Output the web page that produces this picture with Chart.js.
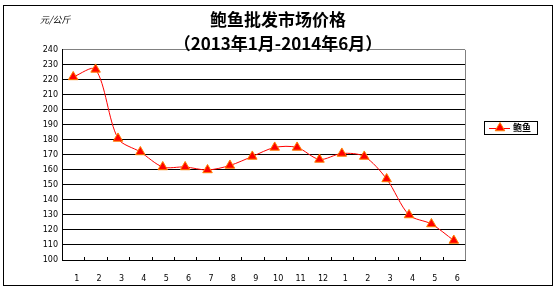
<!DOCTYPE html>
<html>
<head>
<meta charset="utf-8">
<script src="https://cdn.jsdelivr.net/npm/chart.js@4/dist/chart.umd.min.js"></script>
<style>
  html, body { margin: 0; padding: 0; background: #fff; }
  #wrap { width: 556px; height: 291px; position: relative; }
</style>
</head>
<body>
<div id="wrap"><canvas id="abalone"></canvas></div>
<script>
// data
var months = ["1", "2", "3", "4", "5", "6", "7", "8", "9", "10", "11", "12", "1", "2", "3", "4", "5", "6"];
var prices = [222, 227, 181, 172, 162, 162, 160, 163, 169, 175, 175, 167, 171, 169, 154, 130, 124, 113];
var seriesName = "鲍鱼";
var unitLabel = "元/公斤";
var titleText = "鲍鱼批发市场价格";
var subtitleText = "（2013年1月-2014年6月）";
var yMin = 100, yMax = 240, yStep = 10;

// frame, inner ticks, unit label and legend box
var extras = {
    id: 'extras',
    beforeDraw: function (chart) {
        var c = chart.ctx;
        c.save();
        c.fillStyle = '#fff';
        c.fillRect(0, 0, chart.width, chart.height);
        c.restore();
    },
    afterDraw: function (chart) {
        var c = chart.ctx, a = chart.chartArea, x = chart.scales.x;
        c.save();
        // outer frame
        c.strokeStyle = '#000';
        c.lineWidth = 1;
        c.strokeRect(3.5, 5.5, 549, 280);
        // plot right edge (gray)
        c.strokeStyle = '#808080';
        c.beginPath();
        c.moveTo(Math.round(a.right) + 0.5, a.top);
        c.lineTo(Math.round(a.right) + 0.5, a.bottom);
        c.stroke();
        // inner tick marks between categories
        c.strokeStyle = '#000';
        c.beginPath();
        for (var i = 0; i < months.length - 1; i++) {
            var px = Math.round((x.getPixelForValue(i) + x.getPixelForValue(i + 1)) / 2) + 0.5;
            c.moveTo(px, a.bottom);
            c.lineTo(px, a.bottom - 3);
        }
        c.stroke();
        // unit label
        c.fillStyle = '#000';
        c.font = 'italic 9px "Noto Sans CJK SC"';
        c.textBaseline = 'middle';
        c.textAlign = 'left';
        c.fillText(unitLabel, 40, 20);
        // legend
        var ds = chart.data.datasets[0];
        c.strokeStyle = '#000';
        c.strokeRect(484.5, 121.5, 53, 13);
        c.strokeStyle = ds.borderColor;
        c.beginPath();
        c.moveTo(489, 128.5);
        c.lineTo(510, 128.5);
        c.stroke();
        c.fillStyle = ds.pointBackgroundColor;
        c.strokeStyle = ds.pointBorderColor;
        c.lineWidth = ds.pointBorderWidth;
        Chart.helpers.drawPoint(c, { pointStyle: ds.pointStyle, radius: ds.pointRadius, borderWidth: 1, rotation: 0 }, 500, 128);
        c.fillStyle = '#000';
        c.font = 'bold 9px "Noto Sans CJK SC"';
        c.fillText(ds.label, 513, 128);
        c.restore();
    }
};

var ctx = document.getElementById('abalone').getContext('2d');

var priceChart = new Chart(ctx, {
    type: 'line',
    data: {
        labels: months,
        datasets: [{
            label: seriesName,
            data: prices,
            borderColor: '#FF0000',
            borderWidth: 1,
            tension: 0.3,
            pointStyle: 'triangle',
            pointRadius: 5.5,
            pointBackgroundColor: '#FF0000',
            pointBorderColor: '#FF8000',
            pointBorderWidth: 1
        }]
    },
    options: {
        responsive: true,
        maintainAspectRatio: false,
        animation: false,
        layout: { padding: 0 },
        plugins: {
            legend: { display: false },
            tooltip: { enabled: false },
            title: {
                display: true,
                text: titleText,
                color: '#000',
                font: { family: '"Noto Sans CJK SC"', size: 17, weight: 'bold', lineHeight: 1 },
                padding: { top: 11, bottom: 10 }
            },
            subtitle: {
                display: true,
                text: subtitleText,
                color: '#000',
                font: { family: '"Noto Sans CJK SC"', size: 17, weight: 'bold', lineHeight: 0.7 },
                padding: { top: 0, bottom: 0 }
            }
        },
        scales: {
            x: {
                offset: true,
                afterFit: function (s) { s.height = 31; },
                grid: { display: false, drawTicks: false },
                border: { color: '#000', width: 1 },
                ticks: {
                    color: '#000',
                    font: { family: '"DejaVu Sans"', size: 8 },
                    padding: 14,
                    labelOffset: 3.5,
                    maxRotation: 0,
                    autoSkip: false
                }
            },
            y: {
                min: yMin,
                max: yMax,
                afterFit: function (s) { s.width = 62; },
                grid: {
                    drawTicks: false,
                    color: function (c) { return c.tick && c.tick.value === yMax ? '#808080' : '#000'; },
                    lineWidth: 1
                },
                border: { color: '#000', width: 1 },
                ticks: {
                    stepSize: yStep,
                    color: '#000',
                    font: { family: '"DejaVu Sans"', size: 8 },
                    padding: 4
                }
            },
            // empty right-hand axis that only reserves room for the legend
            yRight: {
                position: 'right',
                min: yMin,
                max: yMax,
                afterFit: function (s) { s.width = 91; },
                grid: { display: false },
                border: { display: false },
                ticks: { display: false }
            }
        }
    },
    plugins: [extras]
});
</script>
</body>
</html>
